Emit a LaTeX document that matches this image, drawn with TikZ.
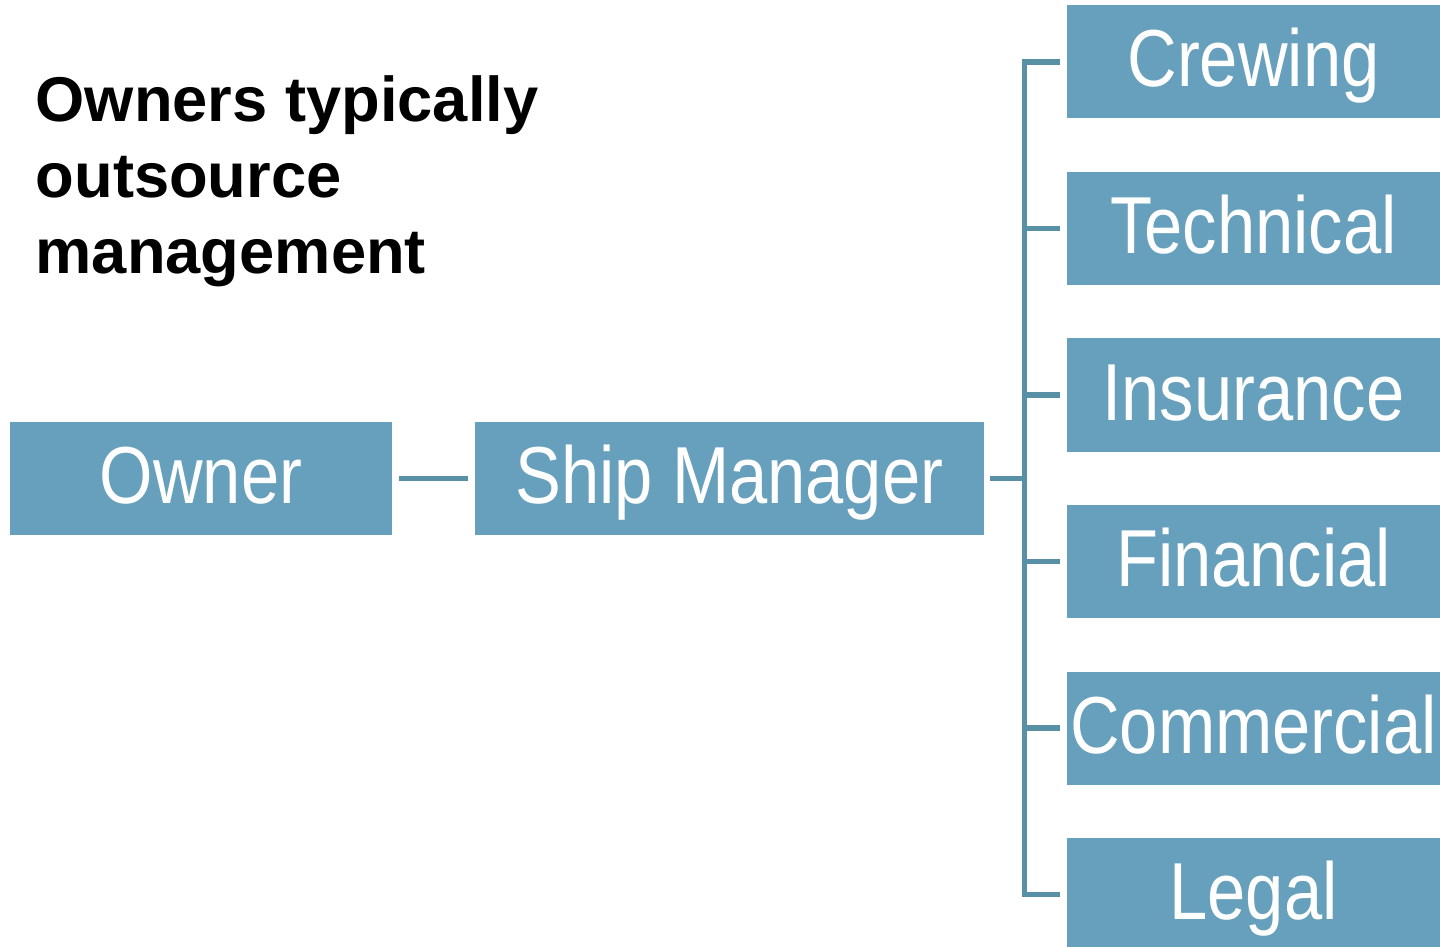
\documentclass[tikz,border=0pt]{standalone}
\usepackage{fontspec}
\setmainfont{Liberation Sans}
\newfontfamily\narrowfont[FakeStretch=0.85]{Liberation Sans}
\usetikzlibrary{positioning}
\definecolor{boxblue}{HTML}{66A0BC}
\definecolor{linkblue}{HTML}{5890A6}
\tikzset{
unit/.style={fill=boxblue, text=white, inner sep=0pt,
	minimum width=#1, minimum height=1.13cm,
	text height=0.62cm, text depth=0.12cm,
	font=\narrowfont\fontsize{23}{27}\selectfont},
link/.style={draw=linkblue, line width=1.45pt},
heading/.style={anchor=north west, inner sep=0pt, align=left,
	font=\bfseries\fontsize{18}{21.6}\selectfont},
}

\begin{document}
\begin{tikzpicture}
	\clip (0,0) rectangle (14.4,9.46);
	
	\node[heading] (title) at (0.35,8.71) {Owners typically\\outsource\\management};
	
	\node[unit=3.82cm] (owner) at (2.01,4.675) {Owner};
	\node[unit=5.09cm] (ship) at (7.295,4.675) {Ship Manager};
	
	%
	\foreach \name [count=\i] in {Crewing,Technical,Insurance,Financial,Commercial,Legal}
		\node[unit=3.73cm] (s\i) at (12.535,8.84-1.665*\i+1.665) {\name};
	
	%
	\coordinate (bus) at (10.25,4.675);
	\draw[link] ([xshift=0.06cm]owner.east) to ([xshift=-0.06cm]ship.west);
	\draw[link] ([xshift=0.05cm]ship.east) to (bus);
	
	%
	\draw[link] ([xshift=-0.06cm]s1.west) -- ++(-0.36,0) |- ([xshift=-0.06cm]s6.west);
	\foreach \i in {2,...,5}
		\draw[link] ([xshift=-0.06cm]s\i.west) -- ++(-0.36,0);
\end{tikzpicture}
\end{document}
